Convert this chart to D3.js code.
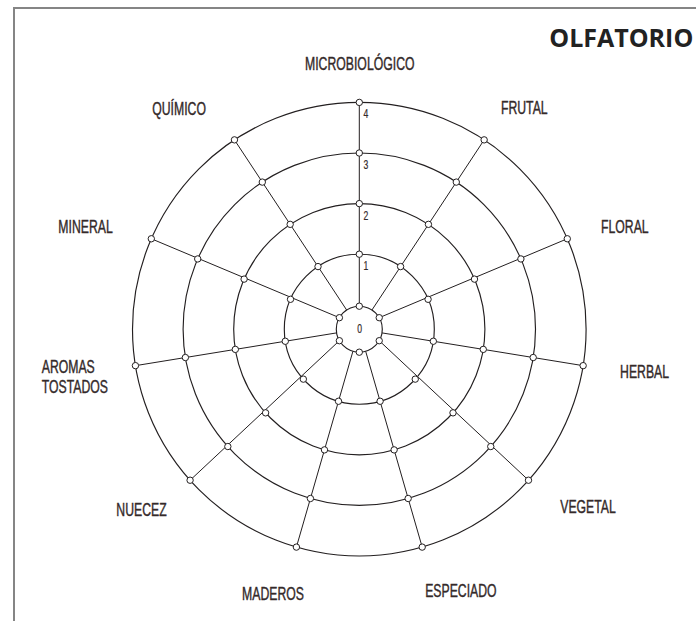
<!DOCTYPE html>
<html><head><meta charset="utf-8">
<script src="https://cdn.jsdelivr.net/npm/d3@7"></script>
<style>body{margin:0;background:#fff} svg{display:block}</style>
</head><body>
<svg id="c" width="696" height="621"></svg>
<script>
// ---- data ----
const categories = ["MICROBIOLÓGICO","FRUTAL","FLORAL","HERBAL","VEGETAL","ESPECIADO","MADEROS","NUECEZ","AROMAS\nTOSTADOS","MINERAL","QUÍMICO"];
const ringLevels = [0,1,2,3,4];
const tickLabels = ["0","1","2","3","4"];
const hubNodeCount = 6;
const title = "OLFATORIO";

// ---- layout ----
const W = 696, H = 621, cx = 359.3, cy = 329.2;
const lineColor = "#231f20", textColor = "#342a2a";
const svg = d3.select("#c");

const r = d3.scaleLinear().domain([0, 1, 4]).range([23, 75, 226.8]);
// angular placement (deg clockwise from top), symmetric, slightly hand-drawn spacing
const half = d3.scaleLinear().domain([0,1,2,3,4,5,5.5]).range([0,33.4,66.5,99.25,131.75,163.9,180]);
const n = categories.length;
const angle = i => i <= n / 2 ? half(i) : 360 - half(n - i);
const pt = (deg, rad) => { const a = deg * Math.PI / 180; return [cx + rad * Math.sin(a), cy - rad * Math.cos(a)]; };

// label placement: [angle, radius] of label centre
const labelLayout = [[0.1,265.7],[36.7,276.1],[68.95,284.5],[98.5,288.4],[127.8,289.5],[158.8,280.9],[198.1,277.9],[230.3,283.1],[261.5,321.1],[290.5,292.3],[320.7,284.6]];

// frame
svg.append("path").attr("d", `M14,${H} V8 H${W}`).attr("fill","none").attr("stroke","#858585").attr("stroke-width",2);

// rings
svg.append("g").selectAll("circle").data(ringLevels).join("circle")
  .attr("cx", cx).attr("cy", cy).attr("r", d => r(d))
  .attr("fill","none").attr("stroke", lineColor).attr("stroke-width", 1.15);

// hub nodes
const hubAngles = d3.range(hubNodeCount).map(k => k * 360 / hubNodeCount);

// spokes
const spokes = categories.map((c, i) => {
  const a = angle(i);
  let best = null, bd = 999;
  hubAngles.forEach(h => { let d = Math.abs(((a - h + 540) % 360) - 180); if (d < bd) { bd = d; best = h; } });
  const start = bd < 15 ? pt(best, r(0)) : pt(a, r(0));
  return [start, pt(a, r(4))];
});
svg.append("g").selectAll("line").data(spokes).join("line")
  .attr("x1", d => d[0][0]).attr("y1", d => d[0][1]).attr("x2", d => d[1][0]).attr("y2", d => d[1][1])
  .attr("stroke", lineColor).attr("stroke-width", 1);

// nodes
const nodes = [];
ringLevels.slice(1).forEach(l => categories.forEach((c, i) => nodes.push(pt(angle(i), r(l)))));
hubAngles.forEach(h => nodes.push(pt(h, r(0))));
svg.append("g").selectAll("circle").data(nodes).join("circle")
  .attr("cx", d => d[0]).attr("cy", d => d[1]).attr("r", 3.2)
  .attr("fill", "#fff").attr("stroke", lineColor).attr("stroke-width", 1);

// tick labels
const fontFam = "'Liberation Sans', Arial, sans-serif";
svg.append("g").selectAll("text").data(ringLevels).join("text")
  .attr("transform", d => d === 0 ? `translate(${cx + 0.3},${cy + 4}) scale(0.72,1)` : `translate(${cx + 4.2},${cy - r(d) + 16}) scale(0.72,1)`)
  .attr("text-anchor", d => d === 0 ? "middle" : "start")
  .attr("font-family", fontFam).attr("font-size", 12).attr("fill", textColor)
  .attr("stroke", textColor).attr("stroke-width", 0.2)
  .text((d, i) => tickLabels[i]);

// category labels
const lab = svg.append("g").attr("font-family", fontFam).attr("font-size", 17.5).attr("fill", textColor)
  .attr("stroke", textColor).attr("stroke-width", 0.4);
categories.forEach((c, i) => {
  const [x, y] = pt(labelLayout[i][0], labelLayout[i][1]);
  const lines = c.split("\n");
  const multi = lines.length > 1;
  const t = lab.append("text")
    .attr("transform", `translate(${x},${y}) scale(0.7,1)`)
    .attr("text-anchor", multi ? "start" : "middle");
  lines.forEach((s, k) => {
    t.append("tspan").attr("x", 0).attr("y", (k - (lines.length - 1) / 2) * 20 + 6.3).text(s);
  });
});

// title
svg.append("text").attr("x", 693.3).attr("y", 46.8).attr("text-anchor", "end")
  .attr("font-family", "'Open Sans', sans-serif").attr("font-weight", 700).attr("font-size", 25)
  .attr("fill", "#222").text(title);
</script>
</body></html>
